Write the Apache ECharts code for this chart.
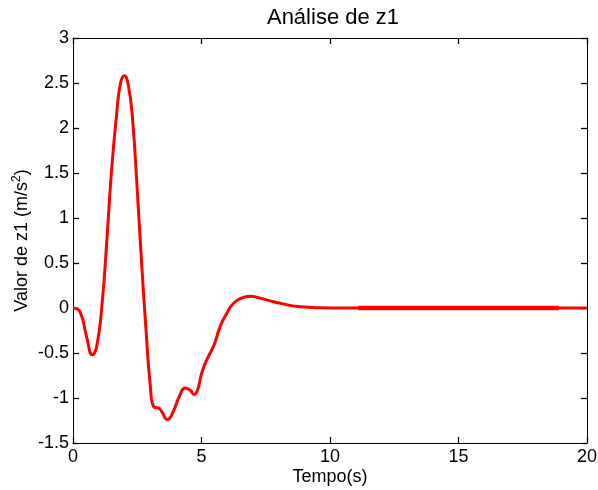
<!DOCTYPE html>
<html>
<head>
<meta charset="utf-8">
<script src="https://cdn.jsdelivr.net/npm/echarts@6/dist/echarts.min.js"></script>
<style>
  html, body { margin: 0; padding: 0; background: #fff; }
  #chart { width: 598px; height: 490px; }
</style>
</head>
<body>
<div id="chart"></div>
<script>
// dados
var tempo = [0, 0.27, 0.53, 0.75, 0.92, 1.12, 1.31, 1.5, 1.7, 1.85, 2.0, 2.15, 2.32, 2.5, 2.67, 2.84, 3.0, 3.15, 3.32, 3.45, 3.67, 3.9, 4.14, 4.36, 4.55, 4.71, 4.85, 5.0, 5.2, 5.49, 5.72, 5.98, 6.24, 6.56, 6.89, 7.28, 7.8, 8.83, 10.1, 12, 15, 18, 20];
var z1 = [0, -0.04, -0.32, -0.52, -0.43, 0.01, 0.72, 1.53, 2.16, 2.5, 2.58, 2.48, 2.09, 1.31, 0.5, -0.24, -0.84, -1.1, -1.11, -1.15, -1.24, -1.15, -0.98, -0.89, -0.91, -0.96, -0.91, -0.73, -0.58, -0.41, -0.21, -0.06, 0.05, 0.11, 0.13, 0.11, 0.07, 0.015, 0, 0, 0, 0, 0];
// trecho onde a linha aparece mais grossa (pequenas oscilações)
var tempoGrosso = [11.1, 18.9];
var z1Grosso = [0, 0];
var xTicks = [0, 5, 10, 15, 20];
var yTicks = [-1.5, -1, -0.5, 0, 0.5, 1, 1.5, 2, 2.5, 3];

var dados = [];
for (var i = 0; i < tempo.length; i++) {
    dados.push([tempo[i], z1[i]]);
}
var dadosGrosso = [];
for (var j = 0; j < tempoGrosso.length; j++) {
    dadosGrosso.push([tempoGrosso[j], z1Grosso[j]]);
}

var fonte = 'Liberation Sans, Arial, sans-serif';
var myChart = echarts.init(document.getElementById('chart'));

function eixo(extra) {
    var base = {
        type: 'value',
        axisLine: { show: true, onZero: false, lineStyle: { color: '#000', width: 1 } },
        axisTick: { show: true, inside: true, length: 6, lineStyle: { color: '#000', width: 1.3 } },
        splitLine: { show: false }
    };
    return Object.assign(base, extra);
}

var option = {
    animation: false,
    backgroundColor: '#fff',
    title: {
        text: 'Análise de z1',
        left: 328,
        top: 2,
        textAlign: 'center',
        textStyle: { fontFamily: fonte, fontSize: 22, fontWeight: 'normal', color: '#000' }
    },
    grid: {
        left: 73, right: 11, top: 38, bottom: 47,
        outerBoundsMode: 'none'
    },
    xAxis: [
        eixo({
            min: xTicks[0], max: xTicks[xTicks.length - 1], interval: 5,
            name: 'Tempo(s)', nameLocation: 'middle', nameGap: 25, nameMoveOverlap: false,
            nameTextStyle: { fontFamily: fonte, fontSize: 18, color: '#000' },
            axisLabel: { fontFamily: fonte, fontSize: 18, color: '#000', margin: 5 }
        }),
        eixo({
            position: 'top', min: xTicks[0], max: xTicks[xTicks.length - 1], interval: 5,
            axisLabel: { show: false }
        })
    ],
    yAxis: [
        eixo({
            min: yTicks[0], max: yTicks[yTicks.length - 1], interval: 0.5,
            name: '{a|Valor de z1 (m/s}{s|2}{a|)}', nameLocation: 'middle', nameGap: 40, nameRotate: 90,
            nameMoveOverlap: false,
            nameTextStyle: {
                rich: {
                    a: { fontFamily: fonte, fontSize: 18, color: '#000' },
                    s: { fontFamily: fonte, fontSize: 12, color: '#000', padding: [0, 0, 10, 0] }
                }
            },
            axisLabel: { fontFamily: fonte, fontSize: 18, color: '#000', margin: 4 }
        }),
        eixo({
            position: 'right', min: yTicks[0], max: yTicks[yTicks.length - 1], interval: 0.5,
            axisLabel: { show: false }
        })
    ],
    series: [
        {
            type: 'line',
            data: dados,
            smooth: 0.5,
            showSymbol: false,
            lineStyle: { color: '#ff0000', width: 3 }
        },
        {
            type: 'line',
            data: dadosGrosso,
            showSymbol: false,
            lineStyle: { color: '#ff0000', width: 4.5 }
        }
    ]
};
myChart.setOption(option);
</script>
</body>
</html>
